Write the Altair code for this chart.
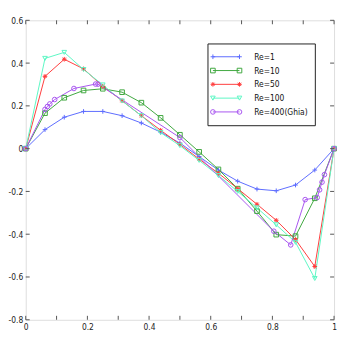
import altair as alt
import pandas as pd

# ---- data ----
series_names = ["Re=1", "Re=10", "Re=50", "Re=100", "Re=400(Ghia)"]
series_colors = ["#5c6cff", "#3fa83f", "#ff3c3c", "#5cf7c4", "#a855f0"]
series_shapes = [
    "M-1,0L1,0M0,-1L0,1",
    "square",
    "M-1,0L1,0M0,-1L0,1M-0.7,-0.7L0.7,0.7M-0.7,0.7L0.7,-0.7",
    "triangle-down",
    "circle",
]

x_grid = [0, 0.0625, 0.125, 0.1875, 0.25, 0.3125, 0.375, 0.4375, 0.5,
          0.5625, 0.625, 0.6875, 0.75, 0.8125, 0.875, 0.9375, 1]
re1 = [0, 0.089, 0.147, 0.174, 0.174, 0.154, 0.120, 0.077, 0.026,
       -0.037, -0.100, -0.152, -0.189, -0.197, -0.170, -0.100, 0]
re10 = [0, 0.166, 0.238, 0.272, 0.280, 0.264, 0.215, 0.144, 0.065,
        -0.015, -0.097, -0.187, -0.292, -0.402, -0.409, -0.232, 0]
re50 = [0, 0.338, 0.418, 0.373, 0.292, 0.224, 0.154, 0.086, 0.020,
        -0.049, -0.115, -0.187, -0.260, -0.335, -0.425, -0.551, 0]
re100 = [0, 0.422, 0.450, 0.370, 0.298, 0.223, 0.154, 0.075, 0.014,
         -0.055, -0.126, -0.200, -0.277, -0.356, -0.438, -0.607, 0]
ghia_x = [0, 0.0625, 0.0703, 0.0781, 0.0938, 0.1563, 0.2266, 0.2344, 0.5,
          0.8047, 0.8594, 0.9063, 0.9453, 0.9531, 0.9609, 0.9688, 1]
ghia_v = [0, 0.18360, 0.19713, 0.20920, 0.22965, 0.28124, 0.30203, 0.30174,
          0.05186, -0.38598, -0.44993, -0.23827, -0.22847, -0.19254,
          -0.15663, -0.12146, 0]

x_ticks = [0, 0.1, 0.2, 0.3, 0.4, 0.5, 0.6, 0.7, 0.8, 0.9, 1]
y_ticks = [-0.8, -0.6, -0.4, -0.2, 0, 0.2, 0.4, 0.6]

# ---- tables ----
rows = []
for name, xs_, ys_ in [
    (series_names[0], x_grid, re1),
    (series_names[1], x_grid, re10),
    (series_names[2], x_grid, re50),
    (series_names[3], x_grid, re100),
    (series_names[4], ghia_x, ghia_v),
]:
    for xv, yv in zip(xs_, ys_):
        rows.append({"series": name, "x": xv, "y": yv})
df = pd.DataFrame(rows)

W, H = 313, 304
LEG_X0, LEG_X1 = 185, 294
LEG_Y0, LEG_Y1 = 24, 107
ROW0, ROWSTEP = 37, 14
SYM_A, SYM_B, TXT_X = 190, 217, 232
MSIZE = 22

leg = pd.DataFrame({"series": series_names,
                    "ly": [ROW0 + i * ROWSTEP for i in range(len(series_names))]})

FONT = "Liberation Sans Narrow, DejaVu Sans Condensed, Liberation Sans, sans-serif"

color = alt.Color("series:N", scale=alt.Scale(domain=series_names, range=series_colors), legend=None)
shape = alt.Shape("series:N", scale=alt.Scale(domain=series_names, range=series_shapes), legend=None)
label_expr = "datum.value == 0 ? '0' : toString(round(datum.value*10)/10)"

xs = alt.Scale(domain=[0, 1], nice=False, zero=False)
ys = alt.Scale(domain=[-0.8, 0.6], nice=False, zero=False)

lines = alt.Chart(df).mark_line(strokeWidth=1, clip=True).encode(
    x=alt.X("x:Q", scale=xs, axis=alt.Axis(values=x_ticks, labelExpr=label_expr, title=None,
                                            ticks=False, domain=False, grid=False,
                                            labelFontSize=8.5, labelFont=FONT, labelColor="#222",
                                            labelPadding=3, labelFlush=False)),
    y=alt.Y("y:Q", scale=ys, axis=alt.Axis(values=y_ticks, labelExpr=label_expr, title=None,
                                            ticks=False, domain=False, grid=False,
                                            labelFontSize=8.5, labelFont=FONT, labelColor="#222",
                                            labelPadding=3, labelFlush=False)),
    color=color,
    detail="series:N",
)
points = alt.Chart(df).mark_point(filled=False, size=MSIZE, strokeWidth=1, opacity=1).encode(
    x="x:Q", y="y:Q", color=color, shape=shape,
)

xt = pd.DataFrame({"x": x_ticks})
yt = pd.DataFrame({"y": y_ticks})
tick_col = "#555"
xtick_b = alt.Chart(xt).mark_rule(color=tick_col).encode(x="x:Q", y=alt.value(H), y2=alt.value(H - 4))
xtick_t = alt.Chart(xt).mark_rule(color=tick_col).encode(x="x:Q", y=alt.value(0), y2=alt.value(4))
ytick_l = alt.Chart(yt).mark_rule(color=tick_col).encode(y="y:Q", x=alt.value(0), x2=alt.value(4))
ytick_r = alt.Chart(yt).mark_rule(color=tick_col).encode(y="y:Q", x=alt.value(W), x2=alt.value(W - 4))

box = alt.Chart(pd.DataFrame({"k": [0]})).mark_rect(fill="white", stroke="#222", strokeWidth=1).encode(
    x=alt.value(LEG_X0), x2=alt.value(LEG_X1), y=alt.value(LEG_Y0), y2=alt.value(LEG_Y1))
leg_line = alt.Chart(leg).mark_rule(strokeWidth=1).encode(
    x=alt.value(SYM_A), x2=alt.value(SYM_B), y=alt.Y("ly:Q", scale=None), color=color)
leg_pa = alt.Chart(leg).mark_point(filled=False, size=MSIZE, strokeWidth=1, opacity=1).encode(
    x=alt.value(SYM_A), y=alt.Y("ly:Q", scale=None), color=color, shape=shape)
leg_pb = alt.Chart(leg).mark_point(filled=False, size=MSIZE, strokeWidth=1, opacity=1).encode(
    x=alt.value(SYM_B), y=alt.Y("ly:Q", scale=None), color=color, shape=shape)
leg_txt = alt.Chart(leg).mark_text(align="left", baseline="middle", fontSize=8.5, font=FONT, color="#111").encode(
    x=alt.value(TXT_X), y=alt.Y("ly:Q", scale=None), text="series:N")

chart = alt.layer(
    lines, points, xtick_b, xtick_t, ytick_l, ytick_r,
    box, leg_line, leg_pa, leg_pb, leg_txt,
).properties(
    width=W, height=H,
    autosize=alt.AutoSizeParams(type="none"),
    padding={"left": 18, "top": 10, "right": 4, "bottom": 16},
).configure_view(
    stroke="#666", strokeWidth=1.2,
).configure(background="white")

chart.save("out.html", embed_options={"renderer": "svg", "actions": False})
